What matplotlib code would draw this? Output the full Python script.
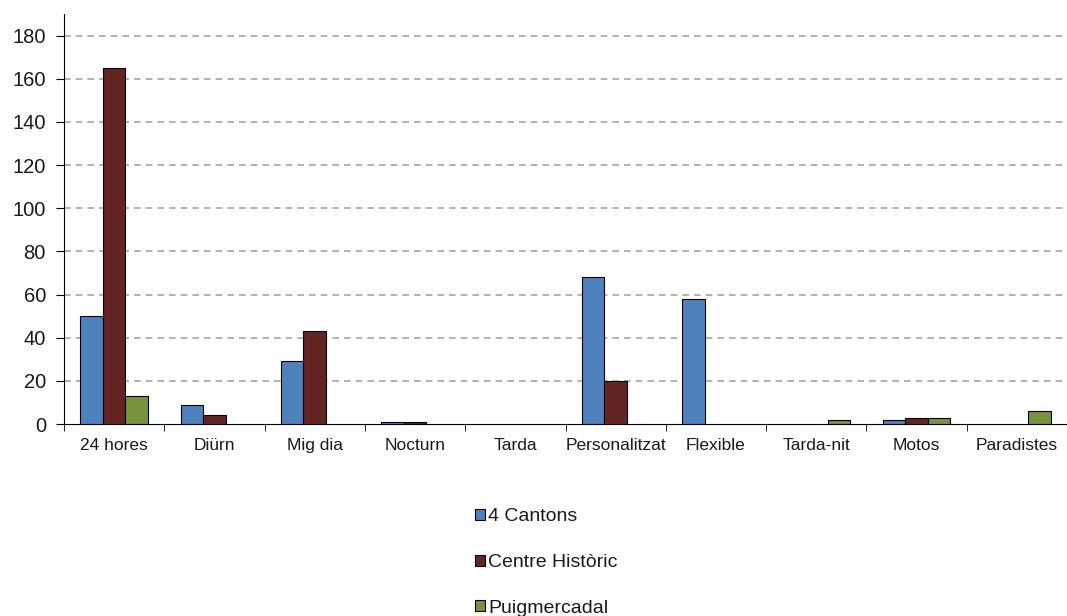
import matplotlib.pyplot as plt
import numpy as np

plt.rcParams['font.family'] = ['Liberation Sans', 'DejaVu Sans']

# Data
categories = ['24 hores', 'Diürn', 'Mig dia', 'Nocturn', 'Tarda',
              'Personalitzat', 'Flexible', 'Tarda-nit', 'Motos', 'Paradistes']
cantons = [50, 9, 29, 1, 0, 68, 58, 0, 2, 0]
centre_historic = [165, 4, 43, 1, 0, 20, 0, 0, 3, 0]
puigmercadal = [13, 0, 0, 0, 0, 0, 0, 2, 3, 6]

series = [('4 Cantons', cantons, '#4F81BD'),
          ('Centre Històric', centre_historic, '#632523'),
          ('Puigmercadal', puigmercadal, '#77933C')]

fig = plt.figure(figsize=(10.67, 6.16), dpi=100)
ax = fig.add_axes([64 / 1067, 192 / 616, 1 - 64 / 1067, (424 - 14) / 616])

x = np.arange(len(categories))
w = 0.225
for i, (name, vals, col) in enumerate(series):
    vals = np.array(vals)
    # zero-height bars are not drawn in the original
    edges = ['black' if v > 0 else 'none' for v in vals]
    ax.bar(x + (i - 1) * w, vals, width=w, color=col, edgecolor=edges,
           linewidth=0.8, label=name, zorder=3)

ax.set_xlim(-0.5, len(categories) - 0.5)
ax.set_ylim(0, 190)
ax.set_yticks(range(0, 181, 20))
ax.set_axisbelow(True)
# dashed gridlines, none at zero
for yv in range(20, 181, 20):
    ax.axhline(yv, linestyle=(0, (4, 3)), color='#A6A6A6', linewidth=1.2,
               zorder=0.5)

# category labels between boundary ticks
ax.set_xticks(x)
ax.set_xticklabels(categories)
ax.set_xticks(np.arange(-0.5, len(categories), 1), minor=True)
ax.tick_params(axis='x', which='major', length=0, pad=10, labelsize=12.5,
               labelcolor='#1a1a1a')
ax.tick_params(axis='x', which='minor', length=5, direction='out')
ax.tick_params(axis='y', length=6, direction='out', labelsize=14.5,
               pad=7, labelcolor='#1a1a1a')

for s in ['top', 'right']:
    ax.spines[s].set_visible(False)
ax.spines['left'].set_color('black')
ax.spines['bottom'].set_color('black')

leg = fig.legend(loc='upper center', bbox_to_anchor=(0.512, 0.203), ncol=1,
                 frameon=False, fontsize=14, labelspacing=1.47,
                 handlelength=0.5, handleheight=0.5, handletextpad=0.2)
for t in leg.get_texts():
    t.set_color('#1a1a1a')

fig.savefig('out.png', dpi=100)
